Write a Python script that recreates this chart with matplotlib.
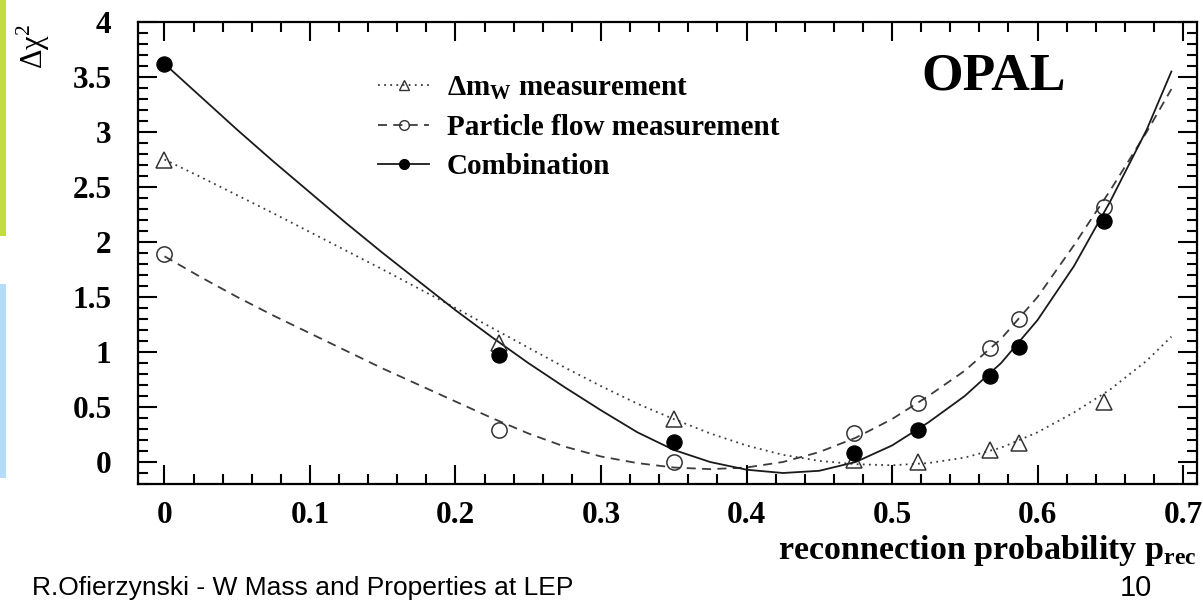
import matplotlib
matplotlib.use("Agg")
import matplotlib.pyplot as plt
from matplotlib.ticker import FixedLocator, MultipleLocator
from matplotlib.lines import Line2D
from matplotlib.patches import Rectangle
from matplotlib.font_manager import FontProperties

# ---------------- data ----------------
P_X = [0.0, 0.23, 0.35, 0.474, 0.518, 0.567, 0.587, 0.646]
MW_POINTS = [2.75, 1.08, 0.39, 0.02, 0.0, 0.105, 0.175, 0.545]
FLOW_POINTS = [1.89, 0.29, 0.0, 0.26, 0.54, 1.04, 1.30, 2.32]
COMB_POINTS = [3.62, 0.97, 0.18, 0.085, 0.295, 0.786, 1.047, 2.19]

CURVE_X = [0.0, 0.025, 0.05, 0.075, 0.1, 0.125, 0.15, 0.175, 0.2, 0.225,
           0.25, 0.275, 0.3, 0.325, 0.35, 0.375, 0.4, 0.425, 0.45, 0.475,
           0.5, 0.525, 0.55, 0.575, 0.6, 0.625, 0.65, 0.675, 0.692]
MW_CURVE = [2.75, 2.59, 2.425, 2.26, 2.09, 1.92, 1.75, 1.575, 1.40, 1.22,
            1.04, 0.86, 0.69, 0.53, 0.39, 0.26, 0.15, 0.065, 0.01, -0.02,
            -0.03, -0.01, 0.04, 0.13, 0.27, 0.45, 0.66, 0.92, 1.14]
FLOW_CURVE = [1.87, 1.68, 1.50, 1.33, 1.17, 1.01, 0.85, 0.70, 0.55, 0.40,
              0.26, 0.14, 0.05, -0.01, -0.05, -0.065, -0.05, 0.0, 0.09, 0.22,
              0.39, 0.60, 0.83, 1.12, 1.50, 1.97, 2.47, 3.0, 3.39]
COMB_CURVE = [3.62, 3.32, 3.02, 2.73, 2.45, 2.17, 1.90, 1.64, 1.38, 1.135,
              0.90, 0.68, 0.47, 0.27, 0.11, 0.0, -0.07, -0.10, -0.08, 0.0,
              0.15, 0.36, 0.60, 0.90, 1.29, 1.78, 2.37, 3.02, 3.55]

X_TICKS = [0.0, 0.1, 0.2, 0.3, 0.4, 0.5, 0.6, 0.7]
X_TICK_LABELS = ["0", "0.1", "0.2", "0.3", "0.4", "0.5", "0.6", "0.7"]
Y_TICKS = [0, 0.5, 1, 1.5, 2, 2.5, 3, 3.5, 4]
Y_TICK_LABELS = ["0", "0.5", "1", "1.5", "2", "2.5", "3", "3.5", "4"]

LEGEND_LABELS = ["\u0394m$_{\\mathregular{W}}$ measurement",
                 "Particle flow measurement",
                 "Combination"]
EXPERIMENT = "OPAL"
X_LABEL = "reconnection probability p$_{\\mathregular{rec}}$"
Y_LABEL = "\u0394\u03c7$^{\\mathregular{2}}$"
FOOTER = "R.Ofierzynski - W Mass and Properties at LEP"
PAGE = "10"

# ---------------- figure ----------------
W, H = 1203, 600
fig = plt.figure(figsize=(W / 100, H / 100), dpi=100)
fig.patch.set_facecolor("white")

def fx(px):
    return px / W

def fy(py):
    return 1 - py / H

# slide decorations on the left edge
fig.patches.append(Rectangle((0, fy(236)), fx(6), 236 / H, transform=fig.transFigure,
                             facecolor="#c3dc3e", edgecolor="none"))
fig.patches.append(Rectangle((0, fy(478)), fx(6), (478 - 284) / H, transform=fig.transFigure,
                             facecolor="#b5dcf8", edgecolor="none"))

ax = fig.add_axes([fx(138), fy(484), (1197 - 138) / W, (484 - 22) / H])
ax.set_xlim(-0.0182, 0.7096)
ax.set_ylim(-0.2, 4.0)

serif = "Liberation Serif"
dot_ls = (0, (1, 2.4))
dash_ls = (0, (5, 3.5))
grey = "#3c3c3c"

ax.plot(CURVE_X, MW_CURVE, color=grey, lw=1.3, ls=dot_ls)
ax.plot(CURVE_X, FLOW_CURVE, color=grey, lw=1.3, ls=dash_ls)
ax.plot(CURVE_X, COMB_CURVE, color="#1a1a1a", lw=1.3)

ax.plot(P_X, MW_POINTS, ls="none", marker="^", ms=11, mfc="none", mec="#333333", mew=1.1)
ax.plot(P_X, FLOW_POINTS, ls="none", marker="o", ms=11, mfc="none", mec="#333333", mew=1.1)
ax.plot(P_X, COMB_POINTS, ls="none", marker="o", ms=11, mfc="black", mec="black", mew=0.8)

for s in ax.spines.values():
    s.set_linewidth(1.6)

ax.xaxis.set_major_locator(FixedLocator(X_TICKS))
ax.set_xticklabels(X_TICK_LABELS)
ax.yaxis.set_major_locator(FixedLocator(Y_TICKS))
ax.set_yticklabels(Y_TICK_LABELS)
ax.xaxis.set_minor_locator(MultipleLocator(0.02))
ax.yaxis.set_minor_locator(MultipleLocator(0.1))
ax.tick_params(which="both", direction="in", top=True, right=True, width=1.5, colors="black")
ax.tick_params(which="major", length=14)
ax.tick_params(which="minor", length=7)
ax.tick_params(axis="y", which="major", pad=19)
ax.tick_params(axis="x", which="major", pad=12)
for lab in ax.get_xticklabels() + ax.get_yticklabels():
    lab.set_fontfamily(serif)
    lab.set_fontweight("bold")
    lab.set_fontsize(22.5)

# legend
handles = [
    Line2D([], [], color=grey, lw=1.3, ls=dot_ls, marker="^", ms=7, mfc="none", mec="#333333", mew=1.0),
    Line2D([], [], color=grey, lw=1.3, ls=dash_ls, marker="o", ms=7, mfc="none", mec="#333333", mew=1.0),
    Line2D([], [], color="#1a1a1a", lw=1.3, marker="o", ms=7, mfc="black", mec="black"),
]
leg = ax.legend(handles, LEGEND_LABELS, loc="upper left",
                bbox_to_anchor=(fx(378), fy(74)), bbox_transform=fig.transFigure,
                frameon=False, handlelength=1.75, handletextpad=0.6,
                labelspacing=0.42, borderpad=0, borderaxespad=0,
                prop=FontProperties(family=serif, weight="bold", size=21))

ax.text(fx(921), fy(77), EXPERIMENT, transform=fig.transFigure, ha="left", va="center",
        fontsize=38.5, fontweight="bold", fontfamily=serif)

fig.text(fx(1197), fy(559), X_LABEL, ha="right", va="baseline",
         fontsize=24.5, fontweight="bold", fontfamily=serif)
fig.text(fx(33), fy(46), Y_LABEL, rotation=90, ha="center", va="center",
         fontsize=22, fontfamily=serif)

fig.text(fx(32), fy(595), FOOTER, ha="left", va="baseline",
         fontsize=19, fontfamily="Liberation Sans")
fig.text(fx(1120), fy(596), PAGE, ha="left", va="baseline",
         fontsize=21, fontfamily="Liberation Sans")

fig.savefig("out.png", dpi=100, facecolor="white")
